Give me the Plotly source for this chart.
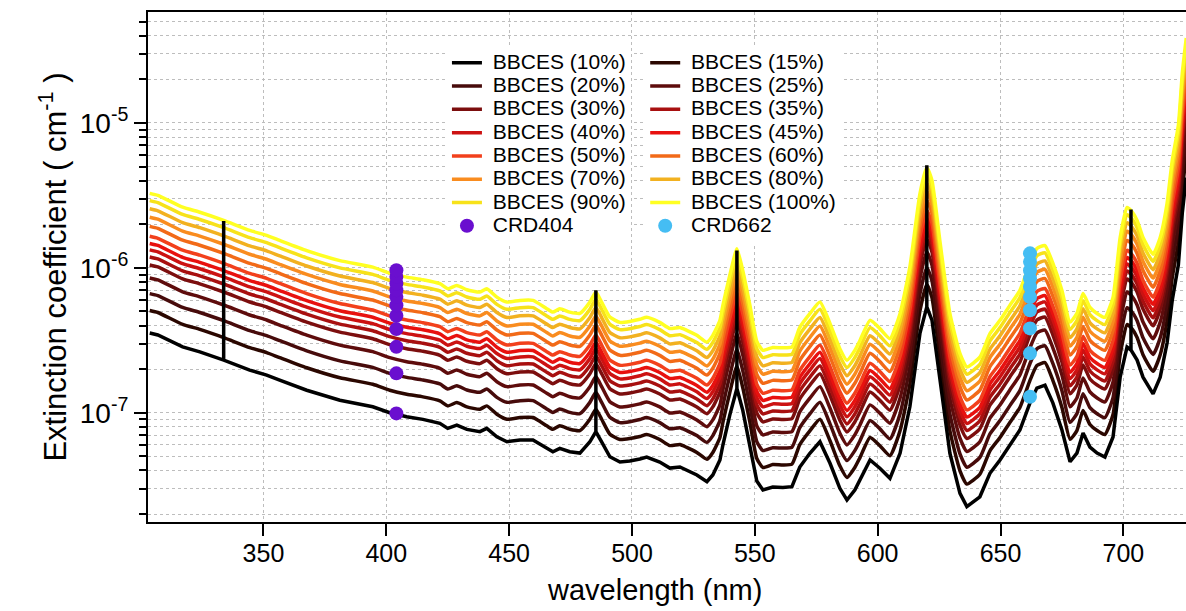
import plotly.graph_objects as go

# ---------------- data ----------------
# wavelength grid (nm) of the BBCES spectra
wavelength = [303.7, 307.0, 317.1, 324.1, 333.8, 344.4, 351.3, 356.6, 367.6, 381.1,
              394.5, 401.4, 408.3, 414.9, 421.8, 425.0, 428.7, 432.8, 438.1, 440.9,
              445.0, 449.1, 454.4, 459.7, 465.3, 467.8, 470.6, 474.7, 478.8, 482.8,
              485.3, 487.7, 491.0, 495.1, 499.1, 503.2, 506.0, 511.3, 515.4, 519.5,
              522.3, 526.4, 530.5, 532.9, 535.8, 537.0, 539.8, 542.7, 545.1, 548.0,
              550.8, 553.3, 557.3, 561.4, 565.1, 568.3, 572.4, 576.5, 580.6, 584.6,
              587.5, 590.7, 592.8, 596.9, 600.9, 605.0, 609.1, 613.1, 617.2, 620.0,
              622.1, 625.3, 629.4, 633.5, 636.3, 641.6, 645.7, 649.8, 653.8, 657.9,
              662.0, 664.8, 668.1, 671.3, 675.0, 678.3, 681.1, 683.6, 686.4, 689.3,
              692.5, 695.8, 698.7, 701.5, 703.1, 705.6, 708.0, 712.1, 715.0, 717.8,
              719.9, 722.4, 724.0, 725.6]

# extinction of the BBCES (10%) spectrum (cm^-1)
ext_10 = [3.55e-7, 3.44e-7, 2.85e-7, 2.63e-7, 2.31e-7, 1.97e-7, 1.82e-7, 1.68e-7, 1.43e-7, 1.22e-7,
          1.10e-7, 1.00e-7, 9.38e-8, 9.00e-8, 8.45e-8, 7.80e-8, 8.22e-8, 7.68e-8, 7.40e-8, 7.80e-8,
          6.83e-8, 6.31e-8, 6.48e-8, 6.48e-8, 5.68e-8, 5.38e-8, 5.68e-8, 5.38e-8, 5.27e-8, 6.28e-8,
          7.40e-8, 6.28e-8, 4.97e-8, 4.57e-8, 4.64e-8, 4.80e-8, 4.95e-8, 4.57e-8, 4.15e-8, 4.22e-8,
          4.03e-8, 3.72e-8, 3.34e-8, 3.72e-8, 4.72e-8, 5.99e-8, 9.64e-8, 1.47e-7, 1.04e-7, 5.99e-8,
          3.38e-8, 2.93e-8, 3.07e-8, 3.05e-8, 3.09e-8, 4.22e-8, 5.25e-8, 6.31e-8, 4.48e-8, 3.01e-8,
          2.50e-8, 2.93e-8, 3.43e-8, 4.72e-8, 4.14e-8, 3.53e-8, 5.25e-8, 1.10e-7, 3.53e-7, 5.38e-7,
          4.36e-7, 1.68e-7, 5.25e-8, 2.78e-8, 2.25e-8, 2.63e-8, 3.82e-8, 4.72e-8, 5.99e-8, 7.60e-8,
          1.17e-7, 1.48e-7, 1.55e-7, 1.17e-7, 7.60e-8, 4.59e-8, 5.27e-8, 7.24e-8, 5.80e-8, 5.27e-8,
          4.95e-8, 6.80e-8, 1.76e-7, 2.84e-7, 2.71e-7, 2.31e-7, 1.76e-7, 1.35e-7, 1.76e-7, 3.03e-7,
          5.98e-7, 1.05e-6, 2.40e-6, 4.20e-6]

# relative humidity labels and level of each BBCES spectrum relative to the 10% one
rh_labels = ["10%", "15%", "20%", "25%", "30%", "35%", "40%",
             "45%", "50%", "60%", "70%", "80%", "90%", "100%"]
rel_level = [1.0, 1.43, 1.87, 2.4, 2.95, 3.35, 3.75,
             4.15, 4.65, 5.45, 6.3, 7.2, 8.2, 9.2]
line_colors = ["#000000", "#2b0700", "#470b0b", "#5e0c0c", "#7c0e0e", "#a81010", "#cc1212",
               "#e8110f", "#f2401c", "#f26a18", "#f98c1f", "#f2b120", "#f7e21a", "#ffff22"]

# single-point spikes in the 10% spectrum
spike_wl = [333.8, 485.3, 542.7, 620.0, 703.1]
spike_top = [2.11e-6, 7.0e-7, 1.32e-6, 5.1e-6, 2.53e-6]

# cavity ring-down points
crd404_wl = 404.1
crd404_ext = [9.9e-8, 1.87e-7, 2.85e-7, 3.78e-7, 4.67e-7, 5.53e-7, 6.31e-7, 7.02e-7, 7.8e-7, 8.67e-7, 9.64e-7]
crd662_wl = 662.0
crd662_ext = [1.29e-7, 2.57e-7, 3.82e-7, 5.1e-7, 6.3e-7, 7.4e-7, 8.45e-7, 9.6e-7, 1.1e-6, 1.26e-6]

# ---------------- figure ----------------
FONT = "Liberation Sans, Arial, sans-serif"
fig = go.Figure()

left_col = ["10%", "20%", "30%", "40%", "50%", "70%", "90%"]


def legend_of(lbl):
    return "legend" if lbl in left_col else "legend2"


def rank_of(lbl):
    col = left_col if lbl in left_col else [l for l in rh_labels if l not in left_col]
    return col.index(lbl) + 1


def legend_text(s):
    return "<span style='font-size:21px'>\u00a0" + s + "</span>"


# colored spectra (15% .. 100%)
for i in range(1, len(rh_labels)):
    lbl = rh_labels[i]
    fig.add_trace(go.Scatter(
        x=wavelength, y=[v * rel_level[i] for v in ext_10],
        mode="lines", name=legend_text(f"BBCES ({lbl})"),
        line=dict(color=line_colors[i], width=3.5, shape="spline", smoothing=0.5),
        legend=legend_of(lbl), legendrank=rank_of(lbl),
    ))

# 10% spectrum with its spikes, drawn on top
x10, y10 = [], []
for wl, v in zip(wavelength, ext_10):
    x10.append(wl)
    y10.append(v)
    if wl in spike_wl:
        k = spike_wl.index(wl)
        x10 += [wl, wl]
        y10 += [spike_top[k], v]
fig.add_trace(go.Scatter(
    x=x10, y=y10, mode="lines", name=legend_text("BBCES (10%)"),
    line=dict(color=line_colors[0], width=3.5),
    legend="legend", legendrank=1,
))

fig.add_trace(go.Scatter(
    x=[crd404_wl] * len(crd404_ext), y=crd404_ext, mode="markers", name=legend_text("CRD404"),
    marker=dict(color="#6a0fcf", size=14), legend="legend", legendrank=8,
))
fig.add_trace(go.Scatter(
    x=[crd662_wl] * len(crd662_ext), y=crd662_ext, mode="markers", name=legend_text("CRD662"),
    marker=dict(color="#45bdf3", size=14), legend="legend2", legendrank=8,
))

minor_vals = [k * 10.0 ** e for e in range(-8, -4) for k in range(2, 10)]
grid_color = "#bdbdbd"
leg_font = dict(family=FONT, size=15.6, color="black")

fig.update_layout(
    width=1186, height=611,
    margin=dict(l=148, r=0, t=12, b=89),
    paper_bgcolor="white", plot_bgcolor="white",
    font=dict(family=FONT, color="black", size=24),
    showlegend=True,
    legend=dict(x=0.288, y=0.933, xanchor="left", yanchor="top", bgcolor="white",
                font=leg_font, tracegroupgap=0),
    legend2=dict(x=0.479, y=0.933, xanchor="left", yanchor="top", bgcolor="white",
                 font=leg_font, tracegroupgap=0),
    xaxis=dict(
        range=[303, 725.5], tickvals=[350, 400, 450, 500, 550, 600, 650, 700],
        ticks="outside", ticklen=12, tickwidth=2, tickcolor="black",
        showline=True, linecolor="black", linewidth=2, mirror=True,
        showgrid=True, gridcolor=grid_color, griddash="dot", gridwidth=1,
        zeroline=False, tickfont=dict(size=25), ticklabelstandoff=-4,
    ),
    yaxis=dict(
        type="log", range=[-7.754, -4.234],
        tickvals=[1e-7, 1e-6, 1e-5], ticktext=["10<sup>-7</sup>", "10<sup>-6</sup>", "10<sup>-5</sup>"],
        ticks="outside", ticklen=12, tickwidth=2, tickcolor="black",
        showline=True, linecolor="black", linewidth=2,
        showgrid=True, gridcolor=grid_color, griddash="dot", gridwidth=1,
        minor=dict(tickmode="array", tickvals=minor_vals, ticks="outside", ticklen=7,
                   tickwidth=2, tickcolor="black", showgrid=True,
                   gridcolor=grid_color, griddash="dot", gridwidth=1),
        zeroline=False, tickfont=dict(size=28),
        title=dict(text="Extinction coefficient ( cm<sup>-1</sup> )", font=dict(size=31), standoff=4),
    ),
    annotations=[dict(
        text="wavelength (nm)", xref="paper", yref="paper", x=0.488, y=-0.134,
        xanchor="center", yanchor="middle", showarrow=False,
        font=dict(family=FONT, size=29, color="black"),
    )],
)

fig.write_html("out.html")
